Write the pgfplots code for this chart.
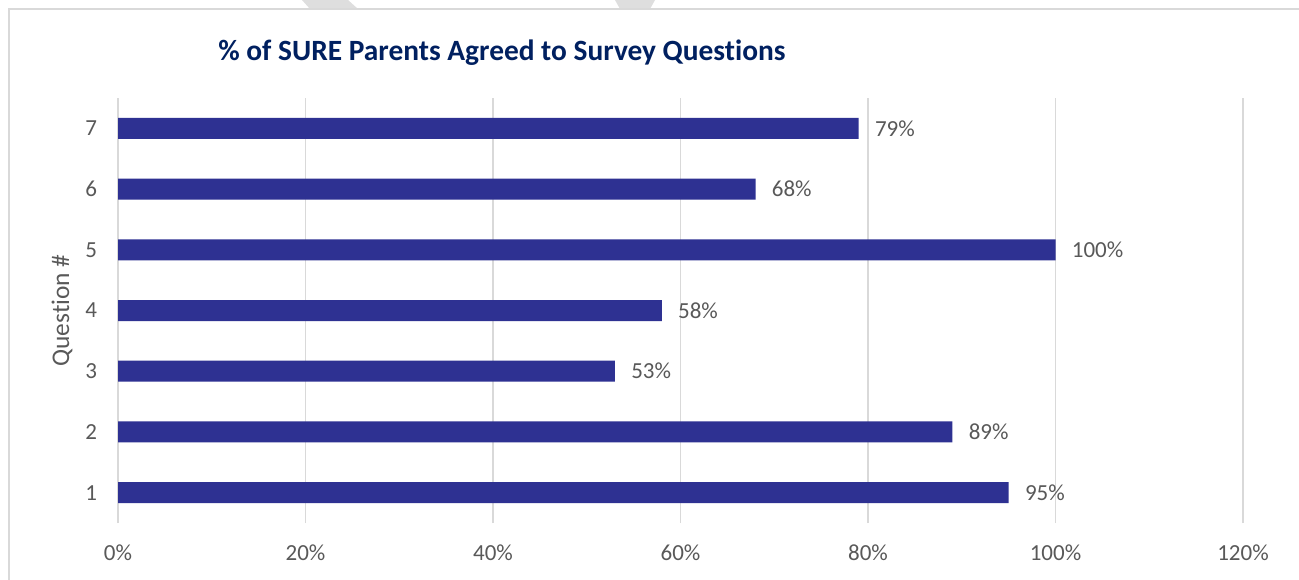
\documentclass[border=0pt]{standalone}
\usepackage{pgfplots}
\pgfplotsset{compat=1.18}
\usepackage{fontspec}
\setmainfont{Carlito}[Ligatures=NoCommon]
\definecolor{barblue}{HTML}{2E3192}
\definecolor{titleblue}{HTML}{002060}
\definecolor{txtgray}{HTML}{595959}
\definecolor{gridgray}{HTML}{D9D9D9}
\definecolor{wmgray}{HTML}{DEDEDE}
\begin{document}
\begin{tikzpicture}
\useasboundingbox (0,0) rectangle (649.5pt,289.5pt);
\fill[white] (0,0) rectangle (649.5pt,289.5pt);
% faint watermark fragments at the top edge
\fill[wmgray] (151pt,289.5pt) -- (174pt,289.5pt) -- (179pt,285pt) -- (155pt,285pt) -- cycle;
\fill[wmgray] (307.5pt,289.5pt) -- (327.5pt,289.5pt) -- (325pt,285pt) -- (310pt,285pt) -- cycle;
\draw[gridgray, line width=0.75pt] (4.5pt,-5pt) rectangle (660pt,285pt);
\begin{axis}[
  at={(59pt,28pt)}, anchor=south west,
  scale only axis, width=562.5pt, height=212.5pt,
  xbar, bar width=10.5pt,
  xmin=0, xmax=120, ymin=0.5, ymax=7.5,
  xtick={0,20,...,120}, ytick={1,...,7},
  /pgf/number format/assume math mode=true,
  xticklabel={\pgfmathprintnumber{\tick}\%},
  xmajorgrids, major grid style={gridgray, line width=0.75pt},
  axis line style={draw=none},
  major tick length=0pt,
  tick label style={font=\fontsize{11.5}{13}\selectfont, text=txtgray},
  xticklabel style={anchor=north, yshift=-7.5pt},
  yticklabel style={anchor=east, xshift=-7pt},
  ylabel={Question \#},
  ylabel style={at={(axis description cs:-0.0498,0.5)}, anchor=center, font=\fontsize{12.7}{14}\selectfont, text=txtgray},
  title={\textbf{\% of SURE Parents Agreed to Survey Questions}},
  title style={at={(axis description cs:0.3413,1.0777)}, anchor=center, font=\fontsize{14.7}{17}\selectfont, text=titleblue},
  point meta=x,
  nodes near coords={\pgfmathprintnumber{\pgfplotspointmeta}\%},
  nodes near coords style={font=\fontsize{11.5}{13}\selectfont, text=txtgray, anchor=west, inner sep=0pt, xshift=8pt},
]
\addplot[fill=barblue, draw=none] coordinates {
(95,1) (89,2) (53,3) (58,4) (100,5) (68,6) (79,7)
};
\end{axis}
\end{tikzpicture}
\end{document}
